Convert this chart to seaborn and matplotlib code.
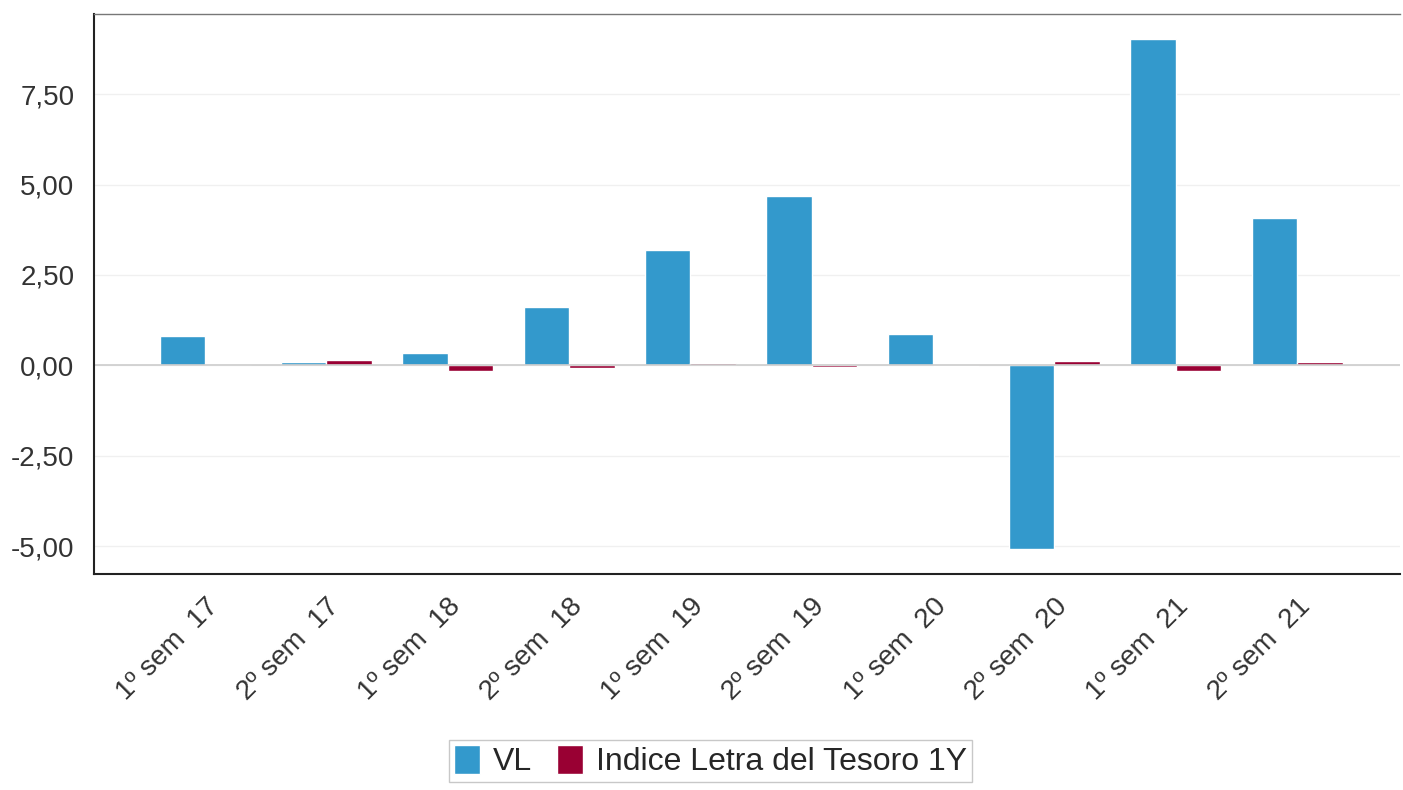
import pandas as pd
import matplotlib.pyplot as plt
import seaborn as sns
from matplotlib.ticker import FuncFormatter

# Data
periods = ["1º sem  17", "2º sem  17", "1º sem  18", "2º sem  18", "1º sem  19",
           "2º sem  19", "1º sem  20", "2º sem  20", "1º sem  21", "2º sem  21"]
vl = [0.80, 0.09, 0.35, 1.60, 3.18, 4.68, 0.86, -5.09, 9.02, 4.07]
indice = [0.00, 0.14, -0.17, -0.08, 0.07, -0.04, -0.03, 0.13, -0.17, 0.10]
series_names = ["VL", "Indice Letra del Tesoro 1Y"]
colors = ["#3399cc", "#990033"]

df = pd.DataFrame({
    "Periodo": periods * 2,
    "Serie": [series_names[0]] * len(periods) + [series_names[1]] * len(periods),
    "Valor": vl + indice,
})

sns.set_style("white")
plt.rcParams['font.family'] = ['Liberation Sans', 'DejaVu Sans']

fig = plt.figure(figsize=(14.03, 7.9), dpi=100)
ax = fig.add_axes([0.067, 0.273, 0.931, 0.709])

sns.barplot(data=df, x="Periodo", y="Valor", hue="Serie", palette=colors,
            width=0.75, saturation=1, ax=ax, legend=True)

ax.set_xlim(-0.915, 9.85)
ax.set_ylim(-5.78, 9.71)
ax.set_yticks([-5, -2.5, 0, 2.5, 5, 7.5])
ax.yaxis.set_major_formatter(FuncFormatter(lambda v, p: f"{v:.2f}".replace(".", ",")))
ax.grid(axis="y", color="#f0f0f0", linewidth=1)
ax.axhline(0, color="#cccccc", linewidth=1.2, zorder=1)
ax.set_axisbelow(True)

ax.set_xlabel("")
ax.set_ylabel("")
ax.tick_params(axis="y", labelsize=20, colors="#333333", length=0, pad=14)
ax.tick_params(axis="x", labelsize=20, colors="#333333", length=0, pad=14)
plt.setp(ax.get_xticklabels(), rotation=45, ha="right", rotation_mode="anchor")

for side in ["left", "bottom"]:
    ax.spines[side].set_color("#222222")
    ax.spines[side].set_linewidth(1.5)
ax.spines["top"].set_color("#777777")
ax.spines["top"].set_linewidth(1)
ax.spines["right"].set_visible(False)

leg = ax.legend(loc="upper center", ncol=2,
                fontsize=23, frameon=True, fancybox=False, edgecolor="#bbbbbb",
                handlelength=0.8, handleheight=1.0, handletextpad=0.4,
                columnspacing=0.8, borderpad=0.15)
leg.get_frame().set_linewidth(1)
leg.set_bbox_to_anchor((0.472, -0.268), transform=ax.transAxes)

fig.savefig("out.png", dpi=100)
